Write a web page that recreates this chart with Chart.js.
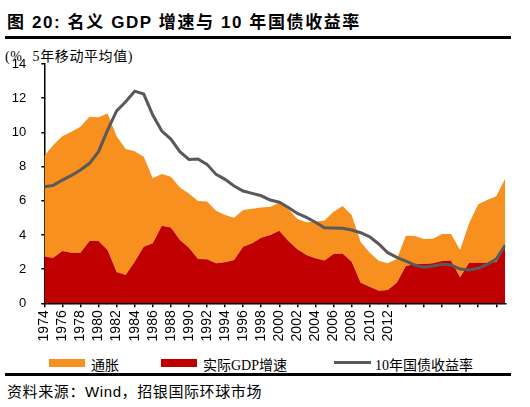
<!DOCTYPE html>
<html lang="zh-CN">
<head>
<meta charset="UTF-8">
<title>名义GDP增速与10年国债收益率</title>
<script src="https://cdn.jsdelivr.net/npm/chart.js@4.4.1/dist/chart.umd.min.js"></script>
<style>
  body {
    margin: 0;
    width: 530px;
    height: 407px;
    position: relative;
    overflow: hidden;
    background: #fff;
    font-family: "Liberation Sans", "Noto Sans CJK SC", sans-serif;
    color: #000;
  }
  .title {
    position: absolute;
    left: 7px;
    top: 8px;
    font-size: 17px;
    font-weight: bold;
    letter-spacing: 1.6px;
    white-space: nowrap;
  }
  .rule {
    position: absolute;
    left: 5px;
    width: 506px;
    height: 3px;
    background: #000;
  }
  .unit {
    position: absolute;
    left: 5px;
    top: 45px;
    font-size: 14px;
    letter-spacing: 0.6px;
    word-spacing: 6px;
    font-family: "Liberation Serif", "Noto Sans CJK SC", serif;
    white-space: nowrap;
  }
  #box {
    position: absolute;
    left: 0;
    top: 40px;
    width: 530px;
    height: 310px;
  }
  .legend {
    position: absolute;
    top: 354px;
    font-size: 14px;
    font-family: "Liberation Serif", "Noto Sans CJK SC", serif;
    white-space: nowrap;
  }
  .legend span.sw {
    position: absolute;
    top: 5px;
    width: 36px;
    height: 8px;
  }
  .legend span.txt { position: absolute; top: 0; }
  .source {
    position: absolute;
    left: 7px;
    top: 380px;
    font-size: 15px;
    letter-spacing: 0.6px;
    white-space: nowrap;
  }
</style>
</head>
<body>
  <div class="title">图 20: 名义 GDP 增速与 10 年国债收益率</div>
  <div class="rule" style="top:36px"></div>
  <div class="unit">(% 5年移动平均值)</div>

  <div id="box"><canvas id="myChart"></canvas></div>

  <div class="legend" style="left:0">
    <span class="sw" style="left:49px;background:#F7901E"></span>
    <span class="txt" style="left:91px">通胀</span>
    <span class="sw" style="left:161px;background:#C00000"></span>
    <span class="txt" style="left:203px">实际GDP增速</span>
    <span class="sw" style="left:334px;top:7px;height:3px;width:37px;background:#595959"></span>
    <span class="txt" style="left:375px">10年国债收益率</span>
  </div>

  <div class="rule" style="top:373px"></div>
  <div class="source">资料来源：Wind，招银国际环球市场</div>

<script>
  // 年份（5年移动平均）
  const years = [1974, 1975, 1976, 1977, 1978, 1979, 1980, 1981, 1982, 1983,
    1984, 1985, 1986, 1987, 1988, 1989, 1990, 1991, 1992, 1993,
    1994, 1995, 1996, 1997, 1998, 1999, 2000, 2001, 2002, 2003,
    2004, 2005, 2006, 2007, 2008, 2009, 2010, 2011, 2012, 2013,
    2014, 2015, 2016, 2017, 2018, 2019, 2020, 2021, 2022, 2023,
    2024, 2025];

  // 实际GDP增速 (%)
  const realGdp = [2.73, 2.67, 3.06, 2.96, 2.96, 3.64, 3.64, 3.12, 1.83, 1.65,
    2.43, 3.31, 3.51, 4.54, 4.44, 3.70, 3.25, 2.59, 2.57, 2.34,
    2.40, 2.53, 3.31, 3.51, 3.84, 3.99, 4.25, 3.64, 3.16, 2.82,
    2.63, 2.51, 2.88, 2.92, 2.43, 1.20, 0.97, 0.74, 0.78, 1.20,
    2.18, 2.30, 2.30, 2.34, 2.47, 2.49, 1.52, 2.37, 2.37, 2.37,
    2.42, 3.31];

  // 通胀 (%)，叠加在实际GDP增速之上
  const inflation = [5.90, 6.59, 6.72, 7.08, 7.37, 7.27, 7.24, 7.99, 7.95, 7.37,
    6.47, 5.26, 3.80, 3.02, 2.96, 3.08, 3.18, 3.39, 3.39, 3.07,
    2.76, 2.48, 2.15, 2.02, 1.77, 1.66, 1.63, 1.87, 1.77, 1.92,
    2.14, 2.34, 2.48, 2.77, 2.73, 2.38, 1.99, 1.75, 1.56, 1.39,
    1.77, 1.64, 1.46, 1.44, 1.58, 1.56, 1.60, 2.31, 3.42, 3.67,
    3.85, 4.00];

  // 10年国债收益率 (%)
  const yield10y = [6.82, 6.90, 7.21, 7.48, 7.80, 8.19, 8.87, 10.13, 11.26, 11.79,
    12.41, 12.24, 11.01, 10.08, 9.61, 8.87, 8.42, 8.44, 8.13, 7.54,
    7.25, 6.86, 6.57, 6.43, 6.29, 6.04, 5.91, 5.61, 5.26, 5.03,
    4.74, 4.42, 4.40, 4.39, 4.29, 4.13, 3.89, 3.47, 2.96, 2.69,
    2.47, 2.24, 2.11, 2.18, 2.28, 2.24, 2.00, 1.95, 2.05, 2.28,
    2.59, 3.41];

  const lastLabelYear = 2012;

  const toPoints = (arr) => years.map((y, i) => ({ x: y, y: arr[i] }));

  const ctx = document.getElementById("myChart").getContext("2d");

  new Chart(ctx, {
    type: "line",
    data: {
      datasets: [
        {
          label: "10年国债收益率",
          data: toPoints(yield10y),
          stack: "yield",
          borderColor: "#595959",
          borderWidth: 3,
          pointRadius: 0,
          fill: false,
          tension: 0,
        },
        {
          label: "实际GDP增速",
          data: toPoints(realGdp),
          stack: "nominal",
          backgroundColor: "#C00000",
          borderColor: "transparent",
          borderWidth: 1,
          pointRadius: 0,
          fill: "origin",
          tension: 0,
        },
        {
          label: "通胀",
          data: toPoints(inflation),
          stack: "nominal",
          backgroundColor: "#F7901E",
          borderColor: "transparent",
          borderWidth: 1,
          pointRadius: 0,
          fill: "-1",
          tension: 0,
        },
      ],
    },
    options: {
      responsive: true,
      maintainAspectRatio: false,
      animation: false,
      layout: { padding: { left: 0, right: 24.7, top: 24, bottom: 0 } },
      plugins: {
        legend: { display: false },
        tooltip: { enabled: false },
      },
      scales: {
        x: {
          type: "linear",
          min: 1974,
          max: 2025,
          afterFit: (scale) => { scale.height = 46.7; },
          border: { display: true, color: "#000", width: 1.5 },
          grid: { drawOnChartArea: false, tickLength: 4, color: "#000", lineWidth: 1.5 },
          ticks: {
            stepSize: 2,
            includeBounds: false,
            autoSkip: false,
            minRotation: 90,
            maxRotation: 90,
            padding: 3,
            color: "#000",
            font: { family: "Liberation Sans", size: 14 },
            callback: (v) => (v <= lastLabelYear ? String(v) : ""),
          },
        },
        y: {
          stacked: true,
          min: 0,
          max: 14,
          afterFit: (scale) => { scale.width = 44.3; },
          border: { display: true, color: "#000", width: 1.5 },
          grid: { drawOnChartArea: false, tickLength: 3, color: "#000", lineWidth: 1.5 },
          ticks: {
            stepSize: 2,
            padding: 15,
            color: "#000",
            font: { family: "Liberation Sans", size: 13 },
          },
        },
      },
    },
  });
</script>
</body>
</html>
